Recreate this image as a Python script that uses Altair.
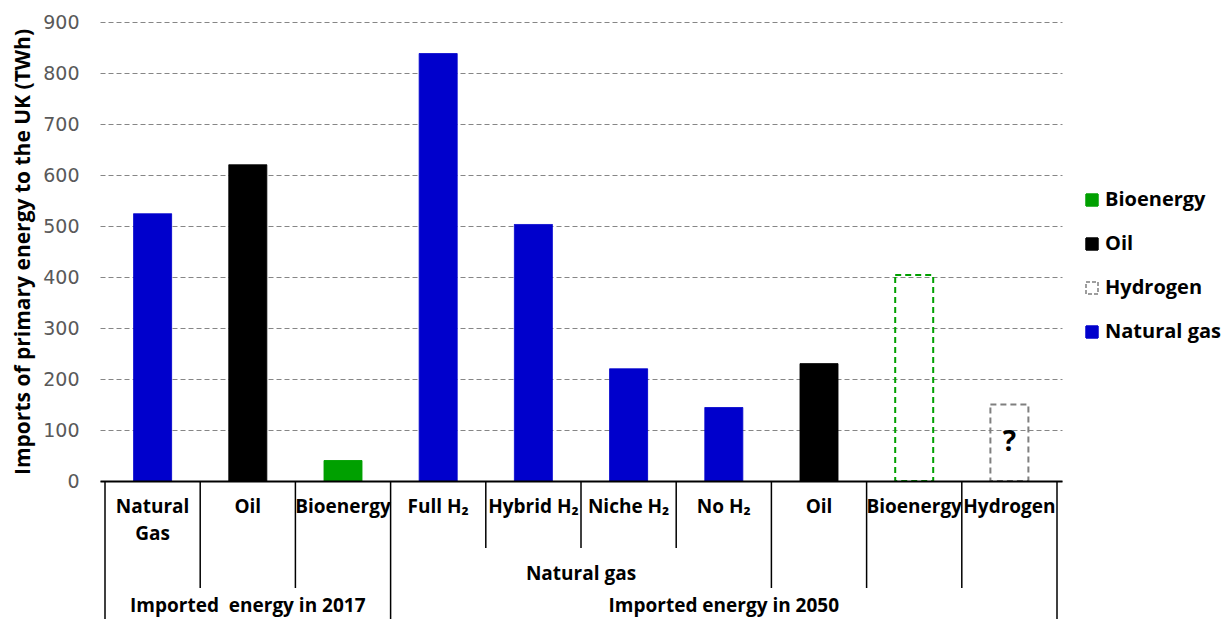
import altair as alt
import pandas as pd

# ---- data ----
labels = ["Natural\nGas", "Oil", "Bioenergy", "Full H\u2082", "Hybrid H\u2082",
          "Niche H\u2082", "No H\u2082", "Oil", "Bioenergy", "Hydrogen"]
values = [524, 620, 40, 838, 503, 220, 144, 230, 404, 150]
types = ["Natural gas", "Oil", "Bioenergy", "Natural gas", "Natural gas",
         "Natural gas", "Natural gas", "Oil", "Bioenergy", "Hydrogen"]
projected = [False, False, False, False, False, False, False, False, True, True]

legend_order = ["Bioenergy", "Oil", "Hydrogen", "Natural gas"]
fill_colors = ["#00A000", "#000000", "transparent", "#0000CC"]
stroke_colors = ["#00A000", "#000000", "#7F7F7F", "#0000CC"]

# group rows of the category table: (label, first column, last column)
level2_groups = [("Natural gas", 3, 6)]
level3_groups = [("Imported\u00a0 energy in 2017", 0, 2), ("Imported energy in 2050", 3, 9)]
# depth of each column boundary line (1 = short, 2 = middle, 3 = full)
boundary_depth = [3, 2, 2, 3, 1, 1, 1, 2, 2, 2, 3]

W, H = 962, 459
FONT = "Open Sans, Noto Sans, DejaVu Sans"

bars = pd.DataFrame({
    "pos": [i + 0.5 for i in range(len(labels))],
    "label": labels,
    "value": values,
    "type": types,
    "dashed": projected,
})
bounds = pd.DataFrame({"pos": list(range(len(boundary_depth))), "depth": boundary_depth})
g2 = pd.DataFrame({"label": [g[0] for g in level2_groups],
                   "pos": [(g[1] + g[2] + 1) / 2 for g in level2_groups]})
g3 = pd.DataFrame({"label": [g[0] for g in level3_groups],
                   "pos": [(g[1] + g[2] + 1) / 2 for g in level3_groups]})

xscale = alt.Scale(domain=[0, len(labels)], nice=False, zero=False)
yscale = alt.Scale(domain=[0, 900], nice=False)
xaxis = alt.Axis(labels=False, ticks=False, grid=False, title=None, domain=True,
                 domainColor="#000000", domainWidth=2, zindex=1)


def X(field):
    return alt.X(f"{field}:Q", scale=xscale, axis=xaxis, title=None)


leg = alt.Legend(title=None, orient="none", legendX=982, legendY=168,
                 symbolType="square", symbolSize=144, symbolStrokeWidth=1.5,
                 labelFont=FONT, labelFontSize=20, labelFontWeight="bold",
                 labelColor="#000000", labelOffset=3, rowPadding=24,
                 labelLimit=300)

bar_layer = alt.Chart(bars).mark_bar(size=38).encode(
    x=X("pos"),
    y=alt.Y("value:Q", scale=yscale,
            axis=alt.Axis(values=list(range(0, 901, 100)), grid=True,
                          gridDash=[5, 3], gridColor="#868686", gridWidth=1,
                          domain=False, ticks=False, labelPadding=21,
                          labelFont="DejaVu Sans", labelFontSize=19,
                          labelColor="#595959",
                          title="Imports of primary energy to the UK (TWh)",
                          titleFont=FONT, titleFontSize=21, titleFontWeight="bold",
                          titleColor="#000000", titlePadding=9)),
    fill=alt.condition("datum.dashed", alt.value("transparent"),
                       alt.Fill("type:N", scale=alt.Scale(domain=legend_order, range=fill_colors),
                                legend=leg)),
    stroke=alt.Stroke("type:N", scale=alt.Scale(domain=legend_order, range=stroke_colors),
                      legend=leg),
    strokeDash=alt.condition("datum.dashed", alt.value([6, 4]),
                             alt.StrokeDash("type:N",
                                            scale=alt.Scale(domain=legend_order,
                                                            range=[[1, 0], [1, 0], [4, 2], [1, 0]]),
                                            legend=leg)),
    strokeWidth=alt.condition("datum.dashed", alt.value(2), alt.value(1)),
)

question = alt.Chart(bars).transform_filter("datum.type == 'Hydrogen'").transform_calculate(
    mid="datum.value / 2"
).mark_text(text="?", font=FONT, fontSize=28, fontWeight="bold", color="#000000",
            baseline="middle").encode(x=X("pos"), y=alt.Y("mid:Q", scale=yscale))

lengths = {1: 67, 2: 107, 3: 138}
rule_layers = [
    alt.Chart(bounds).transform_filter(f"datum.depth == {d}").mark_rule(
        color="#000000", strokeWidth=1.5
    ).encode(x=X("pos"), y=alt.value(H), y2=alt.value(H + L))
    for d, L in lengths.items()
]

lvl1 = alt.Chart(bars).mark_text(font=FONT, fontSize=19, fontWeight="bold", color="#000000",
                                 baseline="alphabetic", lineBreak="\n", lineHeight=27).encode(
    x=X("pos"), y=alt.value(H + 32), text="label:N")
lvl2 = alt.Chart(g2).mark_text(font=FONT, fontSize=19, fontWeight="bold", color="#000000",
                               baseline="alphabetic").encode(
    x=X("pos"), y=alt.value(H + 99), text="label:N")
lvl3 = alt.Chart(g3).mark_text(font=FONT, fontSize=19, fontWeight="bold", color="#000000",
                               baseline="alphabetic").encode(
    x=X("pos"), y=alt.value(H + 131), text="label:N")

chart = alt.layer(bar_layer, question, *rule_layers, lvl1, lvl2, lvl3).properties(
    width=W, height=H,
    padding={"left": 92, "top": 14, "right": 161, "bottom": 138},
    autosize=alt.AutoSizeParams(type="none"),
).configure(background="#ffffff", view=alt.ViewConfig(stroke=None))

chart.save("out.html", embed_options={"renderer": "svg", "actions": False})
